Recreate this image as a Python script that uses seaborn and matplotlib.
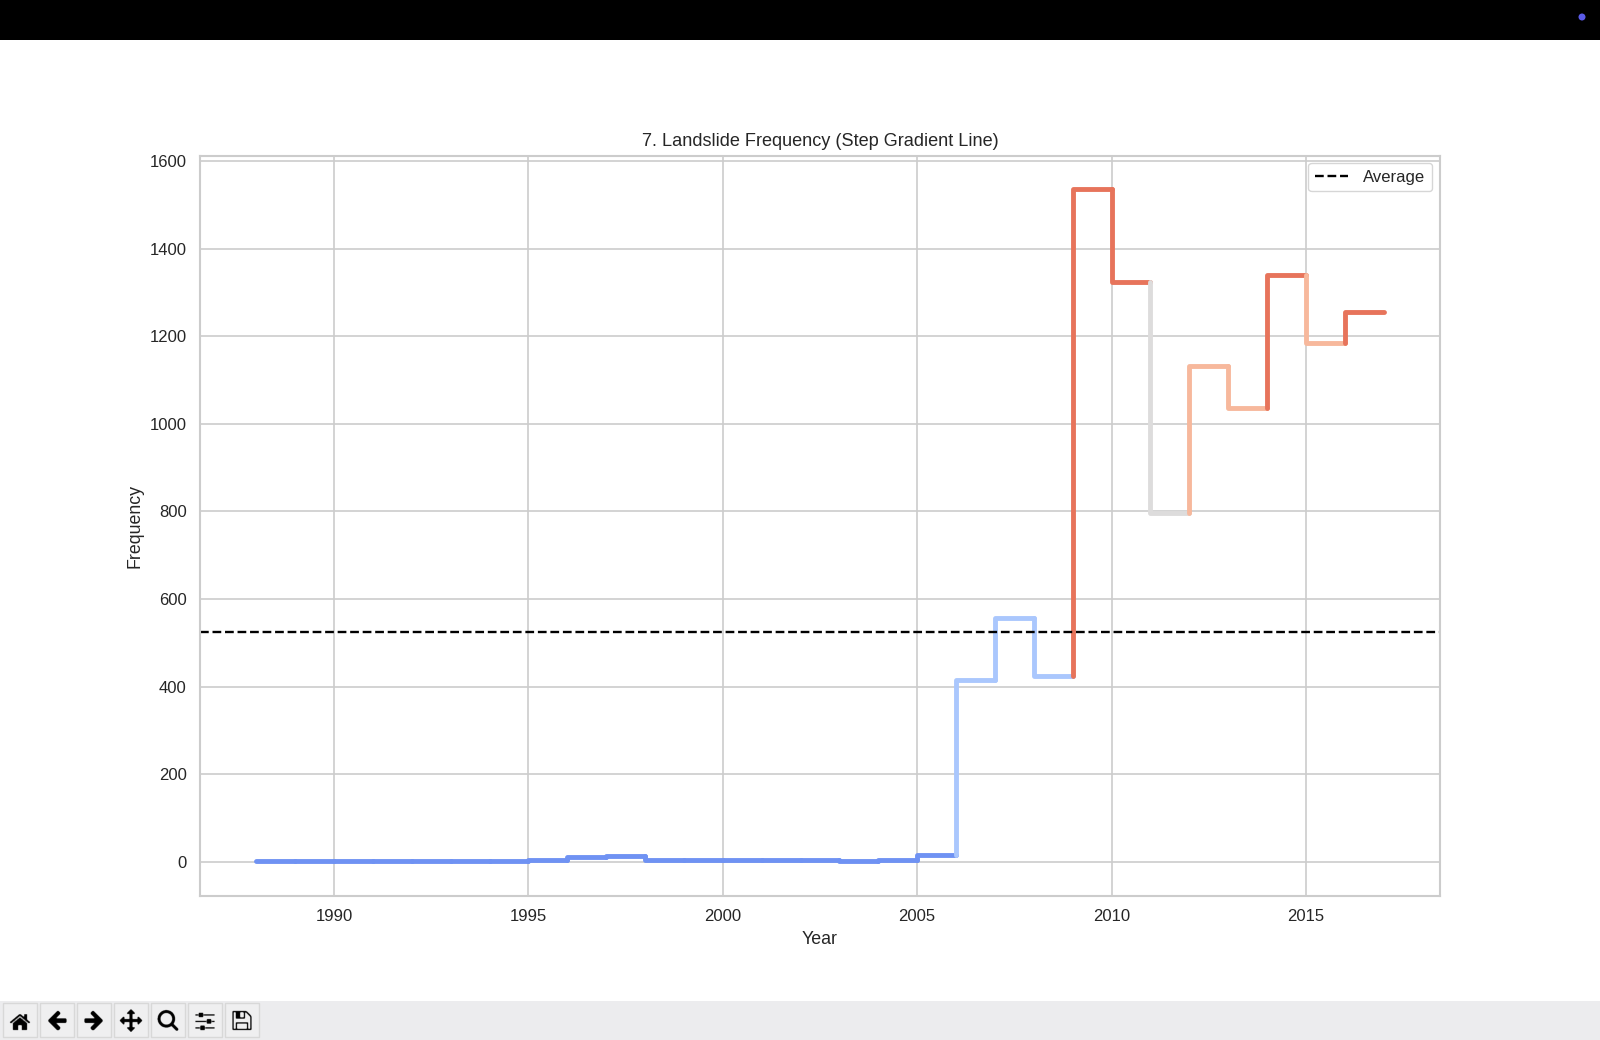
import os
import numpy as np
import pandas as pd
import seaborn as sns
import matplotlib
matplotlib.use("Agg")
import matplotlib.pyplot as plt
from matplotlib.patches import Rectangle, Circle

YEARS = list(range(1988, 2018))
FREQUENCY = [1, 1, 1, 1, 1, 1, 1, 1, 3, 10, 14, 3, 3, 3, 3, 3, 1, 3, 16,
             414, 556, 425, 1536, 1325, 796, 1133, 1036, 1341, 1184, 1255]
AVERAGE = 525
TITLE = "7. Landslide Frequency (Step Gradient Line)"
XLABEL = "Year"
YLABEL = "Frequency"
LEGEND_LABEL = "Average"
ICONS = ["home", "back", "forward", "move", "zoom_to_rect", "subplots", "filesave"]

W, H = 1600, 1040
sns.set_theme(style="whitegrid")
plt.rcParams["font.family"] = ["Liberation Sans", "DejaVu Sans"]

fig = plt.figure(figsize=(W / 100, H / 100), dpi=100, facecolor="white")
ax = fig.add_axes([200 / W, 1 - 896 / H, (1440 - 200) / W, (896 - 156) / H])

palette = sns.color_palette("coolwarm", 5)
levels = pd.cut(pd.Series(FREQUENCY), bins=5, labels=False)

for i in range(len(YEARS) - 1):
    sns.lineplot(x=YEARS[i:i + 2], y=FREQUENCY[i:i + 2], ax=ax, estimator=None, sort=False,
                 drawstyle="steps-pre", color=palette[int(levels[i + 1])], linewidth=3.5)

ax.axhline(AVERAGE, color="black", linestyle="--", linewidth=1.7, label=LEGEND_LABEL)
ax.set_xticks([1990, 1995, 2000, 2005, 2010, 2015])
ax.set_yticks(range(0, 1601, 200))
ax.set_ylim(-78.3, 1612)
ax.tick_params(labelsize=12, colors="#262626")
ax.set_title(TITLE, fontsize=13.1, color="#262626", pad=7.5)
ax.set_xlabel(XLABEL, fontsize=12.8, color="#262626", labelpad=5.2)
ax.set_ylabel(YLABEL, fontsize=12.8, color="#262626", labelpad=4.2)
ax.grid(color="#cccccc", linewidth=1.2)
for s in ax.spines.values():
    s.set_color("#cccccc")
    s.set_linewidth(1.5)
ax.legend(loc="upper right", fontsize=12, handlelength=2.0, handletextpad=0.9,
          borderaxespad=0.55, bbox_to_anchor=(1.001, 1.003))

# window chrome
chrome = fig.add_axes([0, 0, 1, 1], zorder=5)
chrome.set_xlim(0, W)
chrome.set_ylim(H, 0)
chrome.axis("off")
chrome.patch.set_alpha(0)
chrome.add_patch(Rectangle((0, 0), W, 40, color="black", lw=0))
chrome.add_patch(Circle((1582, 17), 3.5, color="#5b5be8", lw=0))
chrome.add_patch(Rectangle((0, 1001), W, 39, color="#ececee", lw=0))
imgdir = os.path.join(matplotlib.get_data_path(), "images")
for k, name in enumerate(ICONS):
    x0 = 2.5 + 37 * k
    chrome.add_patch(Rectangle((x0, 1003), 34, 34, facecolor="#efeff0", edgecolor="#d8d8d8", lw=1))
    img = plt.imread(os.path.join(imgdir, name + "_large.png"))
    chrome.imshow(img, extent=(x0 + 5, x0 + 29, 1032, 1008), aspect="auto", zorder=3, interpolation="bilinear")
chrome.set_xlim(0, W)
chrome.set_ylim(H, 0)

fig.savefig("out.png", dpi=100)
